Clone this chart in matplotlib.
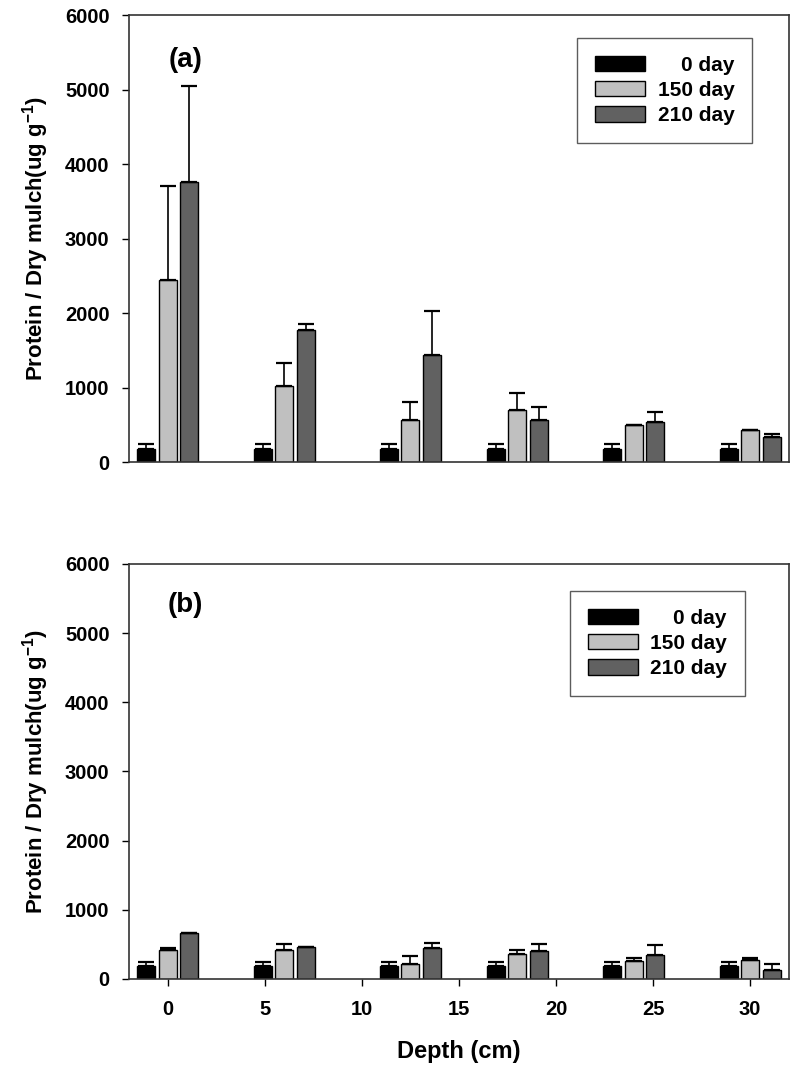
import numpy as np
import matplotlib
matplotlib.use('Agg')
import matplotlib.pyplot as plt

plt.rcParams['font.family'] = ['Liberation Sans', 'DejaVu Sans']
plt.rcParams['font.weight'] = 'bold'
plt.rcParams['mathtext.fontset'] = 'custom'
plt.rcParams['mathtext.rm'] = 'Liberation Sans:bold'
plt.rcParams['mathtext.default'] = 'rm'

# group centres along the depth axis (middle bar of each triplet)
group_pos = [0, 6, 12.5, 18, 24, 30]
depth_ticks = [0, 5, 10, 15, 20, 25, 30]
series_labels = ['0 day', '150 day', '210 day']

# panel (a)
a_d0 = [181, 181, 181, 181, 181, 181]
a_d0_err = [58, 58, 58, 58, 58, 58]
a_d150 = [2445, 1017, 566, 700, 494, 427]
a_d150_err = [1265, 309, 242, 233, 6, 9]
a_d210 = [3755, 1774, 1443, 570, 534, 342]
a_d210_err = [1296, 76, 580, 171, 134, 36]

# panel (b)
b_d0 = [182, 182, 182, 182, 182, 182]
b_d0_err = [58, 58, 58, 58, 58, 58]
b_d150 = [413, 413, 217, 361, 264, 279]
b_d150_err = [35, 97, 120, 63, 34, 19]
b_d210 = [665, 457, 448, 399, 341, 134]
b_d210_err = [3, 4, 72, 107, 150, 87]

colors = ['#000000', '#c0c0c0', '#616161']
offset = 1.1
width = 0.93

fig = plt.figure(figsize=(8, 10.74), dpi=100)
ax_a = fig.add_axes([0.16125, 0.5698, 0.825, 0.4162])
ax_b = fig.add_axes([0.16125, 0.0885, 0.825, 0.3864])

panels = [
    (ax_a, '(a)', [a_d0, a_d150, a_d210], [a_d0_err, a_d150_err, a_d210_err], (0.944, 0.9485)),
    (ax_b, '(b)', [b_d0, b_d150, b_d210], [b_d0_err, b_d150_err, b_d210_err], (0.933, 0.935)),
]

x = np.array(group_pos, dtype=float)
for ax, tag, vals, errs, leg_anchor in panels:
    handles = []
    for i, (v, e) in enumerate(zip(vals, errs)):
        h = ax.bar(x + (i - 1) * offset, v, width=width, color=colors[i],
                   edgecolor='black', linewidth=1.0, zorder=2)
        ax.errorbar(x + (i - 1) * offset, v, yerr=[np.zeros(len(e)), e],
                    fmt='none', ecolor='black', elinewidth=1.2, capsize=5.5,
                    capthick=1.6, zorder=3)
        handles.append(h)

    ax.set_xlim(-2.0, 32.0)
    ax.set_ylim(0, 6000)
    ax.set_yticks(np.arange(0, 6001, 1000))
    ax.tick_params(axis='y', direction='out', length=5, width=1.0, pad=9, labelsize=14.5)
    for sp in ax.spines.values():
        sp.set_linewidth(1.2)
        sp.set_color('#333333')
    ax.set_ylabel('Protein / Dry mulch(ug g$^{-1}$)', fontsize=16, fontweight='bold', labelpad=10)

    ax.text(0.085, 0.9, tag, transform=ax.transAxes, fontsize=20, fontweight='bold',
            ha='center', va='center')

    labels = [s.rjust(7).replace(' ', '  ', 7 - len(s)) if len(s) < 7 else s for s in series_labels]
    leg = ax.legend(handles, labels, loc='upper right', bbox_to_anchor=leg_anchor,
                    borderaxespad=0, fancybox=False, frameon=True, edgecolor='#333333',
                    prop={'size': 15, 'weight': 'bold'}, handlelength=2.4, handleheight=0.75,
                    handletextpad=0.6, labelspacing=0.3, borderpad=0.85)
    leg.get_frame().set_linewidth(1.0)

ax_a.set_xticks([])
ax_b.set_xticks(depth_ticks)
ax_b.set_xticklabels([str(t) for t in depth_ticks],
                     fontdict={'family': ['Liberation Sans Narrow', 'Liberation Sans'],
                               'weight': 'bold', 'size': 14.5})
ax_b.tick_params(axis='x', direction='out', length=5, width=1.0, pad=10)
ax_b.set_xlabel('Depth (cm)', fontsize=17, fontweight='bold', labelpad=15)

fig.savefig('out.png', dpi=100)
